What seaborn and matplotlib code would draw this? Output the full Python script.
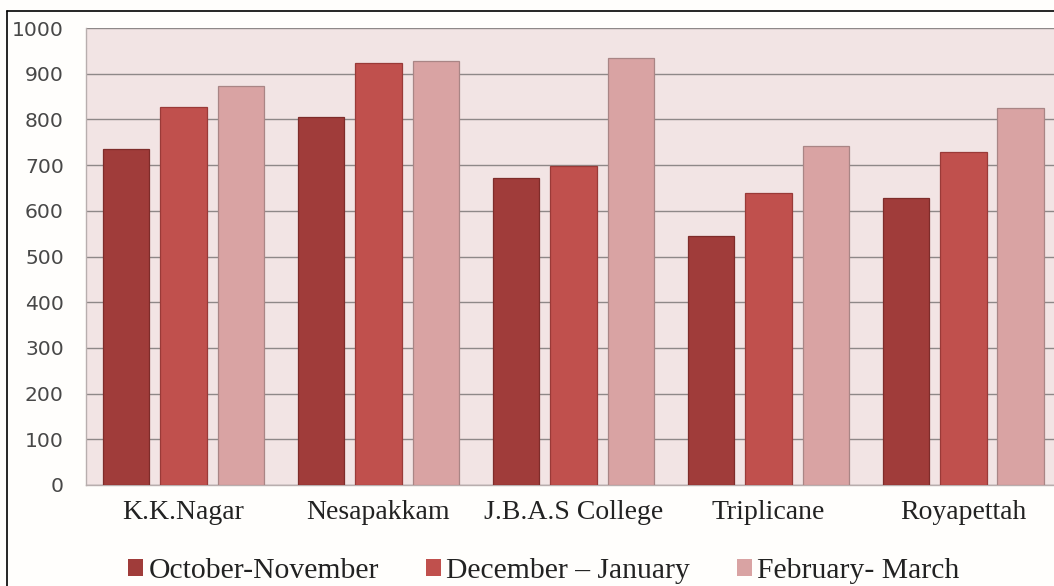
import matplotlib
matplotlib.use("Agg")
import matplotlib.pyplot as plt
from matplotlib.lines import Line2D
import seaborn as sns
import pandas as pd

# Data
locations = ["K.K.Nagar", "Nesapakkam", "J.B.A.S College", "Triplicane", "Royapettah"]
periods = ["October-November", "December \u2013 January", "February- March"]
oct_nov = [735, 805, 671, 545, 629]
dec_jan = [827, 924, 699, 640, 728]
feb_mar = [874, 927, 935, 742, 826]
y_ticks = [0, 100, 200, 300, 400, 500, 600, 700, 800, 900, 1000]

colors = ["#A03C3A", "#C0504D", "#D9A3A3"]
edges = ["#7E2C2A", "#9A3A38", "#A98585"]

df = pd.DataFrame({
    "location": locations * 3,
    "period": [periods[0]] * 5 + [periods[1]] * 5 + [periods[2]] * 5,
    "value": oct_nov + dec_jan + feb_mar,
})

sns.set_theme(style="white")
plt.rcParams["font.family"] = ["DejaVu Sans"]

fig = plt.figure(figsize=(10.54, 5.86), dpi=100)
fig.patch.set_facecolor("#FFFEFC")
ax = fig.add_axes([0.0816, 0.1724, 0.925, 0.7796])
ax.set_facecolor("#F2E4E4")

sns.barplot(data=df, x="location", y="value", hue="period", hue_order=periods,
            palette=colors, saturation=1, width=0.88, gap=0.19, ax=ax,
            legend=False, linewidth=0.9, zorder=3)

# outline each series with a slightly darker tone
for container, ec in zip(ax.containers, edges):
    for bar in container:
        bar.set_edgecolor(ec)

ax.set_ylim(0, 1000)
ax.set_xlim(-0.5, 4.5)
ax.set_yticks(y_ticks)
ax.yaxis.grid(True, color="#8E8888", linewidth=1.0, zorder=0)
ax.set_axisbelow(True)
ax.set_xlabel("")
ax.set_ylabel("")

for side in ["top", "right"]:
    ax.spines[side].set_visible(False)
for side in ["left", "bottom"]:
    ax.spines[side].set_color("#B8AEAE")
    ax.spines[side].set_linewidth(1.0)

ax.tick_params(axis="y", length=0, pad=16, labelsize=14.6, labelcolor="#484848")
ax.tick_params(axis="x", length=0, pad=11)
for lbl in ax.get_xticklabels():
    lbl.set_fontfamily("Liberation Serif")
    lbl.set_fontsize(20)
    lbl.set_color("#222222")

handles = [plt.Rectangle((0, 0), 1, 1, facecolor=c, edgecolor="none") for c in colors]
fig.legend(handles, periods, loc="center", bbox_to_anchor=(0.516, 0.025), ncol=3,
           frameon=False, prop={"family": "Liberation Serif", "size": 21.3},
           handlelength=0.5, handleheight=0.5, handletextpad=0.17,
           columnspacing=1.6, labelcolor="#222222", borderaxespad=0, borderpad=0)

# outer frame (top and left edges)
fig.add_artist(Line2D([0.0066, 1.0], [0.981, 0.981], color="black", linewidth=1.2,
                      transform=fig.transFigure))
fig.add_artist(Line2D([0.0066, 0.0066], [0.0, 0.981], color="black", linewidth=1.2,
                      transform=fig.transFigure))

fig.savefig("out.png", dpi=100, facecolor=fig.get_facecolor())
